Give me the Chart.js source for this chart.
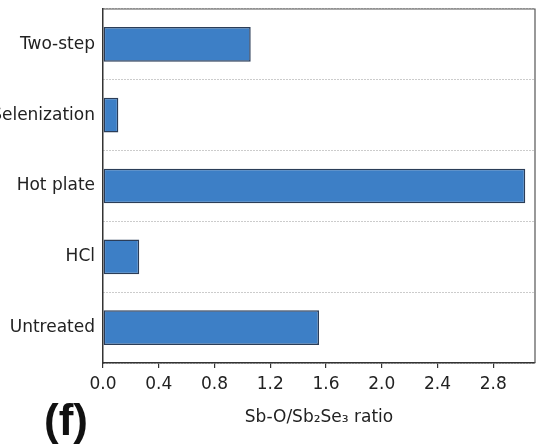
<!DOCTYPE html>
<html>
<head>
<meta charset="utf-8">
<script src="https://cdn.jsdelivr.net/npm/chart.js@4"></script>
<style>
  html, body { margin: 0; padding: 0; background: #fff; }
  #wrap { width: 544px; height: 444px; position: relative; }
</style>
</head>
<body>
<div id="wrap"><canvas id="ratio-chart"></canvas></div>
<script>
// Categories (top to bottom) and Sb-O / Sb2Se3 ratio values
const categories = ['Two-step', 'Selenization', 'Hot plate', 'HCl', 'Untreated'];
const ratios = [1.06, 0.11, 3.03, 0.26, 1.55];
const xTicks = [0.0, 0.4, 0.8, 1.2, 1.6, 2.0, 2.4, 2.8];

const FONT = '"DejaVu Sans", "Liberation Sans", Arial, sans-serif';

// Top/right frame of the plot box plus the panel letter
const framePlugin = {
  id: 'frame',
  afterDraw(chart) {
    const { ctx, chartArea: a } = chart;
    ctx.save();
    ctx.strokeStyle = '#555';
    ctx.lineWidth = 1.2;
    ctx.beginPath();
    ctx.moveTo(a.left, a.top);
    ctx.lineTo(a.right, a.top);
    ctx.lineTo(a.right, a.bottom);
    ctx.stroke();

    ctx.fillStyle = '#111';
    ctx.font = 'bold 44px "Liberation Sans", Arial, sans-serif';
    ctx.textBaseline = 'alphabetic';
    ctx.fillText('(f)', 44, 435);
    ctx.restore();
  }
};

const ctx = document.getElementById('ratio-chart').getContext('2d');

new Chart(ctx, {
  type: 'bar',
  data: {
    labels: categories,
    datasets: [
      {
        label: 'Sb-O/Sb2Se3 ratio',
        data: ratios,
        backgroundColor: '#3d7fc6',
        borderColor: '#2b3d58',
        borderWidth: 1.5,
        borderSkipped: false,
        categoryPercentage: 1,
        barPercentage: 0.49
      }
    ]
  },
  plugins: [framePlugin],
  options: {
    indexAxis: 'y',
    responsive: true,
    maintainAspectRatio: false,
    animation: false,
    layout: {
      padding: { top: 9, right: 9, left: 0, bottom: 0 }
    },
    plugins: {
      legend: { display: false },
      tooltip: { enabled: false }
    },
    scales: {
      x: {
        type: 'linear',
        min: 0,
        max: 3.1,
        afterFit: s => { s.height = 81; },
        afterBuildTicks: s => { s.ticks = xTicks.map(v => ({ value: v })); },
        ticks: {
          padding: 6,
          color: '#222',
          font: { family: FONT, size: 17 },
          callback: v => Number(v).toFixed(1)
        },
        grid: {
          drawOnChartArea: false,
          drawTicks: true,
          tickLength: 5,
          color: '#333',
          lineWidth: 1.2
        },
        border: { color: '#333', width: 1.5 },
        title: {
          display: true,
          text: 'Sb-O/Sb\u2082Se\u2083 ratio',
          color: '#222',
          font: { family: FONT, size: 17 },
          padding: { top: 0, bottom: 16 }
        }
      },
      y: {
        type: 'category',
        afterFit: s => {
          s.width = 103;
          s.paddingTop = 0;
          s.paddingBottom = 0;
        },
        ticks: {
          padding: 8,
          color: '#222',
          font: { family: FONT, size: 17 }
        },
        grid: {
          offset: true,
          drawTicks: false,
          color: '#999',
          lineWidth: 1
        },
        // in v4 border.dash styles the grid lines
        border: { color: '#333', width: 1.5, dash: [1, 2] }
      }
    }
  }
});
</script>
</body>
</html>
